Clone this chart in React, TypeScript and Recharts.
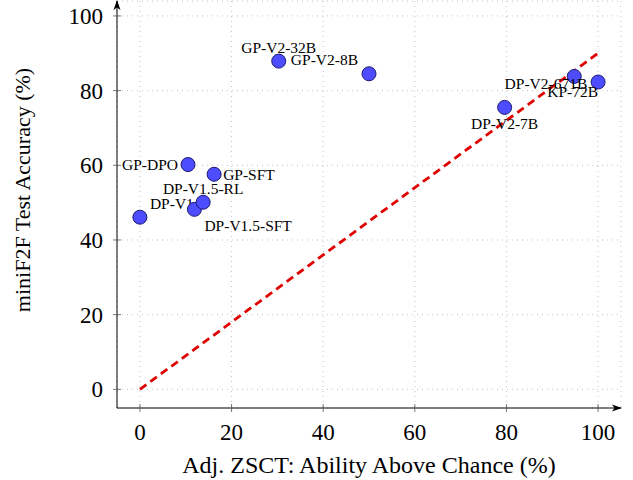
import React from "react";
import { ScatterChart, Scatter, XAxis, YAxis, CartesianGrid } from "recharts";

const models = [
  "DP-V1",
  "DP-V1.5-SFT",
  "DP-V1.5-RL",
  "GP-DPO",
  "GP-SFT",
  "GP-V2-32B",
  "GP-V2-8B",
  "DP-V2-7B",
  "DP-V2-671B",
  "KP-72B",
];
const zsct = [0, 11.9, 13.8, 10.5, 16.2, 30.3, 50, 79.6, 94.8, 100];
const minif2f = [46.1, 48.2, 50.1, 60.2, 57.6, 87.9, 84.5, 75.5, 83.8, 82.3];

const axisTicks = [0, 20, 40, 60, 80, 100];
const refX = [0, 100];
const refY = [0, 90];

// where each name sits relative to its dot
const labelPos: Record<string, { dx: number; dy: number; anchor: "start" | "middle" | "end" }> = {
  "DP-V1": { dx: 10, dy: -14, anchor: "start" },
  "DP-V1.5-SFT": { dx: 10, dy: 16, anchor: "start" },
  "DP-V1.5-RL": { dx: 0, dy: -14, anchor: "middle" },
  "GP-DPO": { dx: -10, dy: 0, anchor: "end" },
  "GP-SFT": { dx: 9, dy: 0, anchor: "start" },
  "GP-V2-32B": { dx: 0, dy: -14, anchor: "middle" },
  "GP-V2-8B": { dx: -11, dy: -14, anchor: "end" },
  "DP-V2-7B": { dx: 0, dy: 16, anchor: "middle" },
  "DP-V2-671B": { dx: 13, dy: 7, anchor: "end" },
  "KP-72B": { dx: 0, dy: 10, anchor: "end" },
};

const points = models.map((name, i) => ({ name, x: zsct[i], y: minif2f[i] }));
const chanceLine = refX.map((x, i) => ({ x, y: refY[i] }));

const SERIF = "'Liberation Serif', 'DejaVu Serif', serif";

function XTick(props: any) {
  const { x, y, payload } = props;
  return (
    <g>
      <line x1={x} x2={x} y1={y - 4} y2={y + 4} stroke="#555" strokeWidth={0.8} />
      <text x={x} y={y + 32} textAnchor="middle" fontFamily={SERIF} fontSize={23} fill="#000">
        {payload.value}
      </text>
    </g>
  );
}

function YTick(props: any) {
  const { x, y, payload } = props;
  return (
    <g>
      <line x1={x - 4} x2={x + 4} y1={y} y2={y} stroke="#555" strokeWidth={0.8} />
      <text x={x - 14} y={y + 8} textAnchor="end" fontFamily={SERIF} fontSize={23} fill="#000">
        {payload.value}
      </text>
    </g>
  );
}

function Dot(props: any) {
  const { cx, cy } = props;
  const name = props.payload?.name ?? props.name;
  const p = labelPos[name] || { dx: 0, dy: -14, anchor: "middle" };
  return (
    <g>
      <circle cx={cx} cy={cy} r={7} fill="#4d4dff" stroke="#1a1a70" strokeWidth={1} />
      <text
        x={cx + p.dx}
        y={cy + p.dy}
        dy="0.35em"
        textAnchor={p.anchor}
        fontFamily={SERIF}
        fontSize={15.5}
        fill="#000"
      >
        {name}
      </text>
    </g>
  );
}

export default function App() {
  return (
    <div style={{ position: "absolute", left: 0, top: 0, width: 633, height: 480, background: "#fff" }}>
      <ScatterChart width={633} height={480} margin={{ top: 1, right: 12, bottom: 0, left: 0 }}>
        <defs>
          <marker
            id="axisArrow"
            viewBox="0 0 10 10"
            refX="9"
            refY="5"
            markerWidth="10"
            markerHeight="10"
            markerUnits="userSpaceOnUse"
            orient="auto-start-reverse"
          >
            <path d="M0,1.5 L10,5 L0,8.5 L2.5,5 Z" fill="#000" />
          </marker>
        </defs>
        <CartesianGrid stroke="#c4c4c4" strokeDasharray="1 4" />
        <XAxis
          type="number"
          dataKey="x"
          domain={[-5, 105]}
          ticks={axisTicks}
          allowDataOverflow
          height={72}
          tickSize={0}
          tickMargin={0}
          tickLine={false}
          tick={<XTick />}
          axisLine={{ stroke: "#000", strokeWidth: 1, markerEnd: "url(#axisArrow)" }}
          label={(p: any) => {
            const vb = p.viewBox;
            return (
              <text
                x={vb.x + vb.width / 2}
                y={vb.y + 65}
                textAnchor="middle"
                fontFamily={SERIF}
                fontSize={24}
                fill="#000"
              >
                Adj. ZSCT: Ability Above Chance (%)
              </text>
            );
          }}
        />
        <YAxis
          type="number"
          dataKey="y"
          domain={[-5, 104]}
          ticks={axisTicks}
          allowDataOverflow
          width={117}
          tickSize={0}
          tickMargin={0}
          tickLine={false}
          tick={<YTick />}
          axisLine={{ stroke: "#000", strokeWidth: 1, markerStart: "url(#axisArrow)" }}
          label={() => (
            <text
              x={30}
              y={190}
              transform="rotate(-90 30 190)"
              textAnchor="middle"
              fontFamily={SERIF}
              fontSize={22}
              fill="#000"
            >
              miniF2F Test Accuracy (%)
            </text>
          )}
        />
        <Scatter
          data={chanceLine}
          isAnimationActive={false}
          line={{ stroke: "#e00000", strokeWidth: 2.8, strokeDasharray: "8 5" }}
          shape={() => <g />}
          legendType="none"
        />
        <Scatter data={points} isAnimationActive={false} shape={(p: any) => <Dot {...p} />} />
      </ScatterChart>
    </div>
  );
}
